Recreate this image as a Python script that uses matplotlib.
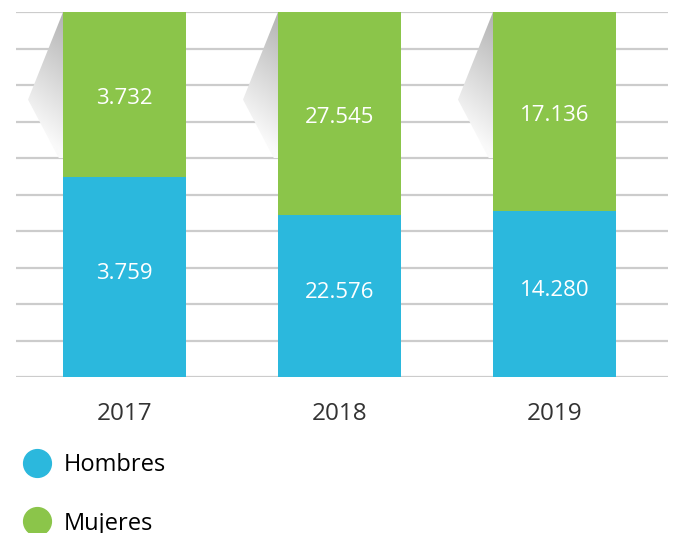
import matplotlib.pyplot as plt
import numpy as np
from matplotlib.patches import Polygon
from matplotlib.lines import Line2D

plt.rcParams['font.family'] = ['Open Sans', 'DejaVu Sans']

years = ['2017', '2018', '2019']
# share of each bar (percent of full height)
hombres_pct = [54.8, 44.4, 45.5]
mujeres_pct = [100 - v for v in hombres_pct]
# labels printed inside the bars
hombres_lbl = ['3.759', '22.576', '14.280']
mujeres_lbl = ['3.732', '27.545', '17.136']

blue = '#2bb8dd'
green = '#8bc54a'

fig = plt.figure(figsize=(6.88, 5.33), dpi=100)
ax = fig.add_axes([16/688, (533-377)/533, (668-16)/688, 365/533])

x = np.arange(len(years))
w = 0.572

for yv in range(0, 101, 10):
    ax.axhline(yv, color='#cccccc', lw=1.6, zorder=0)

# gray gradient shapes on the left of each bar: darker at top, fading down
vv = np.linspace(0, 1, 200).reshape(-1, 1)
hh = np.linspace(0, 1, 50).reshape(1, -1)
level = np.clip(178 + 78 * vv + 16 * (1 - hh), 0, 250) / 255.0
rgb = np.dstack([level, level, level])
for xi in x:
    left = xi - w/2
    poly = Polygon([(left, 100), (left - 0.163, 76), (left - 0.02, 60), (left, 60)],
                   closed=True, transform=ax.transData, facecolor='none', edgecolor='none')
    ax.add_patch(poly)
    im = ax.imshow(rgb, aspect='auto', extent=(left - 0.17, left, 58, 100),
                   origin='upper', zorder=1, interpolation='bilinear')
    im.set_clip_path(poly)

ax.bar(x, hombres_pct, w, color=blue, zorder=2)
ax.bar(x, mujeres_pct, w, bottom=hombres_pct, color=green, zorder=2)

for xi, h, m, hl, ml in zip(x, hombres_pct, mujeres_pct, hombres_lbl, mujeres_lbl):
    ax.text(xi, h/2 + 1, hl, ha='center', va='center', color='white', fontsize=16, zorder=3)
    ax.text(xi, h + m/2 - 1, ml, ha='center', va='center', color='white', fontsize=16, zorder=3)

ax.set_xlim(-0.505, 2.528)
ax.set_ylim(0, 100)
ax.set_xticks(x)
ax.set_xticklabels(years, fontsize=17.5, color='#333333')
ax.tick_params(axis='x', length=0, pad=18)
ax.set_yticks([])
for s in ax.spines.values():
    s.set_visible(False)

handles = [Line2D([], [], marker='o', ls='', markersize=20, color=blue),
           Line2D([], [], marker='o', ls='', markersize=20, color=green)]
fig.legend(handles, ['Hombres', 'Mujeres'], loc='upper left', bbox_to_anchor=(0.012, 0.167),
           frameon=False, fontsize=17, labelspacing=1.45, handletextpad=0.35,
           handlelength=1.6, borderaxespad=0)

fig.savefig('out.png', dpi=100)
